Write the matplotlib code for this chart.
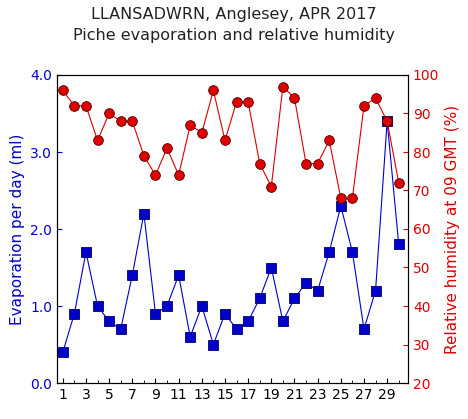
import matplotlib
matplotlib.use("Agg")
import matplotlib.pyplot as plt

days = list(range(1, 31))
evap = [0.4,0.9,1.7,1.0,0.8,0.7,1.4,2.2,0.9,1.0,1.4,0.6,1.0,0.5,0.9,0.7,0.8,1.1,1.5,0.8,
        1.1,1.3,1.2,1.7,2.3,1.7,0.7,1.2,3.4,1.8]
rh = [96,92,92,83,90,88,88,79,74,81,74,87,85,96,83,93,93,77,71,97,
      94,77,77,83,68,68,92,94,88,72]

fig = plt.figure(figsize=(4.68, 4.19), dpi=100)
ax = fig.add_axes([57/468, 1-383/419, (408-57)/468, (383-75)/419])
ax.plot(days, evap, color="#0000cc", lw=0.8, marker="s", ms=6.5, mfc="#0000cc", mec="#000066", mew=0.6)
ax.set_ylim(0, 4.0)
ax.set_xlim(0.5, 30.8)
ax.set_yticks([0, 1, 2, 3, 4])
ax.set_yticklabels(["0.0", "1.0", "2.0", "3.0", "4.0"])
ax.set_xticks(range(1, 30, 2))
ax.set_xticks(days, minor=True)
ax.tick_params(axis="y", colors="#0000cc", labelsize=10, direction="in")
ax.tick_params(axis="x", labelsize=10, direction="in")
ax.tick_params(which="minor", direction="in", length=2)
ax.set_ylabel("Evaporation per day (ml)", color="#0000cc", fontsize=11)

ax2 = ax.twinx()
ax2.plot(days, rh, color="#dd0000", lw=0.8, marker="o", ms=7, mfc="#dd0000", mec="#550000", mew=0.6)
ax2.set_ylim(20, 100)
ax2.set_yticks(range(20, 101, 10))
ax2.tick_params(axis="y", colors="#dd0000", labelsize=10, direction="in")
ax2.set_ylabel("Relative humidity at 09 GMT (%)", color="#dd0000", fontsize=11)

fig.text(0.5, 0.955, "LLANSADWRN, Anglesey, APR 2017", ha="center", fontsize=11.5, color="#222222")
fig.text(0.5, 0.905, "Piche evaporation and relative humidity", ha="center", fontsize=11.5, color="#222222")
fig.savefig("out.png", dpi=100)
